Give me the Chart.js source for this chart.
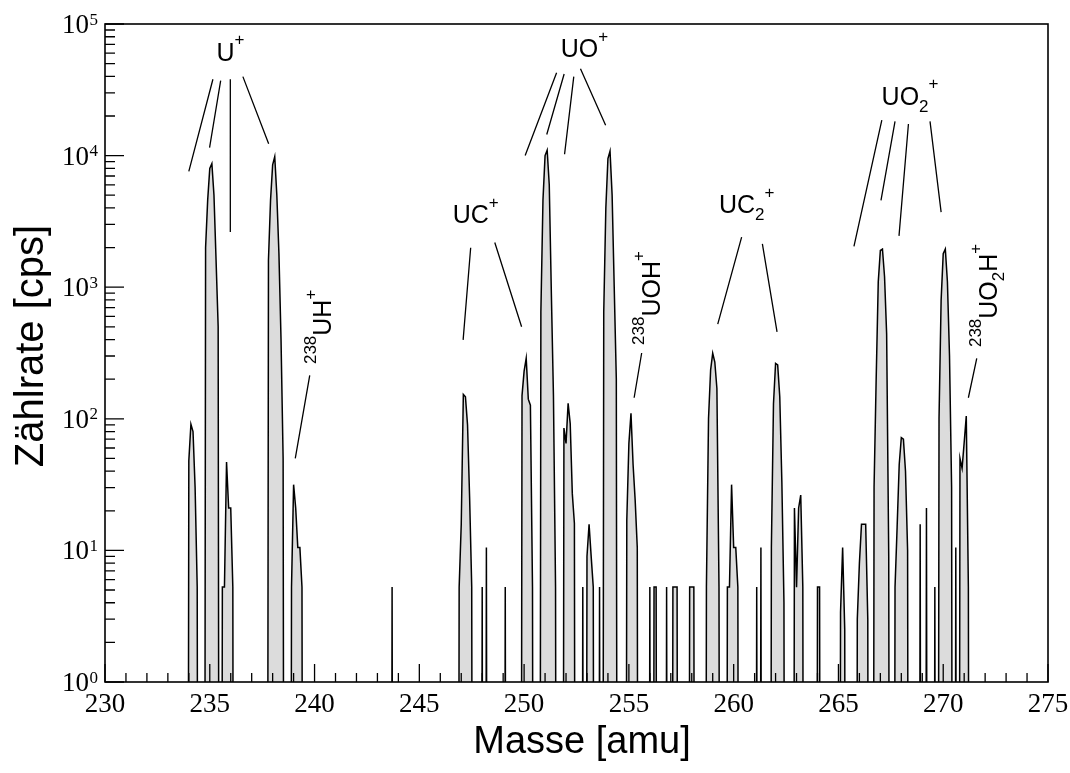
<!DOCTYPE html>
<html>
<head>
<meta charset="utf-8">
<script src="https://cdn.jsdelivr.net/npm/chart.js@4.4.1/dist/chart.umd.min.js"></script>
<style>
  html, body { margin: 0; padding: 0; background: #ffffff; }
  #wrap { width: 1070px; height: 773px; }
</style>
</head>
<body>
<div id="wrap"><canvas id="spectre" width="1070" height="773"></canvas></div>
<script>
// Spectre de masse : [masse (amu), taux de comptage (cps)], 0 = aucun coup
const peaksU = [
  [233.9, 0], [234.0, 48], [234.1, 91], [234.2, 80], [234.3, 30], [234.4, 5.26], [234.5, 0],
  [234.7, 0], [234.8, 2000], [234.9, 4600], [235.0, 8000], [235.1, 8700], [235.2, 5000], [235.3, 1600], [235.4, 500], [235.5, 0],
  [235.6, 5.26], [235.7, 5.26], [235.8, 47], [235.9, 21], [236.0, 21], [236.1, 5.26], [236.2, 0],
  [237.7, 0], [237.8, 1600], [237.9, 4600], [238.0, 8500], [238.1, 9800], [238.2, 5000], [238.3, 1800], [238.4, 400], [238.5, 50], [238.6, 0],
  [238.8, 0], [238.9, 5.26], [239.0, 31.6], [239.1, 21], [239.2, 10.5], [239.3, 10.5], [239.4, 5.26], [239.5, 0],
];
const peaksUC = [
  [243.6, 0], [243.7, 5.26], [243.8, 0],
  [246.8, 0], [246.9, 5.26], [247.0, 15.8], [247.1, 153], [247.2, 147], [247.3, 90], [247.4, 25], [247.5, 5.26], [247.6, 0],
  [247.9, 0], [248.0, 5.26], [248.1, 0], [248.2, 10.5], [248.3, 0],
  [249.0, 0], [249.1, 5.26], [249.2, 0],
];
const peaksUO = [
  [249.8, 0], [249.9, 150], [250.0, 230], [250.1, 288], [250.2, 141], [250.3, 127], [250.4, 5.26], [250.5, 0],
  [250.7, 0], [250.8, 650], [250.9, 4600], [251.0, 10000], [251.1, 11000], [251.2, 6000], [251.3, 900], [251.4, 150], [251.5, 5.26], [251.6, 0],
  [251.8, 0], [251.9, 85], [252.0, 65], [252.1, 131], [252.2, 92], [252.3, 27], [252.4, 16], [252.5, 0],
  [252.7, 0], [252.8, 5.26], [252.9, 0], [253.0, 9], [253.1, 15.8], [253.2, 9], [253.3, 5.26], [253.4, 0],
  [253.5, 0], [253.6, 5.26], [253.7, 0], [253.8, 650], [253.9, 4000], [254.0, 9500], [254.1, 10800], [254.2, 5000], [254.3, 1000], [254.4, 200], [254.5, 0],
  [254.8, 0], [254.9, 17], [255.0, 65], [255.1, 110], [255.2, 45], [255.3, 24], [255.4, 10.5], [255.5, 0],
];
const peaksNoise = [
  [255.9, 0], [256.0, 5.26], [256.1, 0], [256.2, 5.26], [256.3, 5.26], [256.4, 0],
  [256.7, 0], [256.8, 5.26], [256.9, 0],
  [257.0, 0], [257.1, 5.26], [257.2, 5.26], [257.3, 5.26], [257.4, 0],
  [257.8, 0], [257.9, 5.26], [258.0, 5.26], [258.1, 5.26], [258.2, 0],
];
const peaksUC2 = [
  [258.6, 0], [258.7, 5.26], [258.8, 100], [258.9, 235], [259.0, 315], [259.1, 270], [259.2, 170], [259.3, 5.26], [259.4, 0],
  [259.6, 0], [259.7, 5.26], [259.8, 5.26], [259.9, 31.6], [260.0, 10.5], [260.1, 10.5], [260.2, 5.26], [260.3, 0],
  [261.0, 0], [261.1, 5.26], [261.2, 0], [261.3, 10.5], [261.4, 0],
  [261.7, 0], [261.8, 10.5], [261.9, 130], [262.0, 264], [262.1, 257], [262.2, 147], [262.3, 33], [262.4, 4], [262.5, 0],
  [262.8, 0], [262.9, 21], [263.0, 5.26], [263.1, 21], [263.2, 26.3], [263.3, 5.26], [263.4, 0],
  [263.9, 0], [264.0, 5.26], [264.1, 5.26], [264.2, 0],
  [265.0, 0], [265.1, 3.4], [265.2, 10.5], [265.3, 2.5], [265.4, 0],
];
const peaksUO2 = [
  [265.8, 0], [265.9, 3], [266.0, 8], [266.1, 15.8], [266.2, 15.8], [266.3, 15.8], [266.4, 3], [266.5, 0],
  [266.6, 0], [266.7, 30], [266.8, 200], [266.9, 1100], [267.0, 1900], [267.1, 1950], [267.2, 1200], [267.3, 440], [267.4, 9], [267.5, 0],
  [267.6, 0], [267.7, 5.26], [267.8, 15], [267.9, 45], [268.0, 72], [268.1, 70], [268.2, 40], [268.3, 10], [268.4, 0],
  [268.8, 0], [268.9, 15.8], [269.0, 0],
  [269.1, 0], [269.2, 21], [269.3, 0],
  [269.5, 0], [269.6, 5.26], [269.7, 0], [269.8, 100], [269.9, 800], [270.0, 1800], [270.1, 1950], [270.2, 1100], [270.3, 300], [270.4, 30], [270.5, 0],
  [270.6, 10.5], [270.7, 0], [270.8, 50], [270.9, 42], [271.0, 66], [271.1, 105], [271.2, 5.26], [271.3, 0],
];

// Axes
const xMajorTicks = [230, 235, 240, 245, 250, 255, 260, 265, 270, 275];
const xTickLabels = ["230", "235", "240", "245", "250", "255", "260", "265", "270", "275"];
const yMajorTicks = [1, 10, 100, 1000, 10000, 100000];
const yTickExponents = ["0", "1", "2", "3", "4", "5"];
const S_xTitle = "Masse [amu]";
const S_yTitle = "Zählrate [cps]";

// Annotations : [masse1, log10(cps1), masse2, log10(cps2)]
const annotLines = [
  [235.15, 4.58, 234.00, 3.88], [235.52, 4.57, 234.99, 4.06], [235.98, 4.58, 235.98, 3.42], [236.58, 4.60, 237.81, 4.09],
  [239.77, 2.33, 239.08, 1.70],
  [247.45, 3.30, 247.09, 2.60], [248.60, 3.34, 249.88, 2.70],
  [251.55, 4.63, 250.05, 4.00], [251.91, 4.62, 251.08, 4.16], [252.37, 4.60, 251.93, 4.01], [252.69, 4.66, 253.89, 4.23],
  [255.61, 2.50, 255.25, 2.16],
  [260.38, 3.38, 259.24, 2.72], [261.37, 3.33, 262.07, 2.66],
  [267.07, 4.27, 265.74, 3.31], [267.70, 4.26, 267.03, 3.66], [268.34, 4.24, 267.89, 3.39], [269.37, 4.26, 269.90, 3.57],
  [271.60, 2.46, 271.20, 2.16],
];
const annotLabels = [
  { runs: [["U", "n"], ["+", "sup"]], m: 235.32, e: 4.719 },
  { runs: [["UO", "n"], ["+", "sup"]], m: 251.75, e: 4.747 },
  { runs: [["UC", "n"], ["+", "sup"]], m: 246.59, e: 3.486 },
  { runs: [["UC", "n"], ["2", "sub"], ["+", "sup"]], m: 259.30, e: 3.562 },
  { runs: [["UO", "n"], ["2", "sub"], ["+", "sup"]], m: 267.06, e: 4.385 },
  { runs: [["238", "sup"], ["UH", "n"], ["+", "sup"]], m: 240.79, e: 2.416, rot: true },
  { runs: [["238", "sup"], ["UOH", "n"], ["+", "sup"]], m: 256.48, e: 2.561, rot: true },
  { runs: [["238", "sup"], ["UO", "n"], ["2", "sub"], ["H", "n"], ["+", "sup"]], m: 272.55, e: 2.545, rot: true },
];

const ZERO_FLOOR = 1e-9; // zéro coup -> très loin sous l'axe log
const SANS = '"Liberation Sans", Arial, sans-serif';
const SERIF = '"Liberation Serif", "Times New Roman", serif';

const A_points = [].concat(peaksU, peaksUC, peaksUO, peaksNoise, peaksUC2, peaksUO2)
  .map(([m, c]) => ({ x: m, y: c > 0 ? c : ZERO_FLOOR }));

function F_drawRuns(ctx, runs, x, y) {
  let cx = x;
  runs.forEach(([text, kind]) => {
    const size = kind === "n" ? 25 : 17;
    const dy = kind === "sup" ? -15.5 : kind === "sub" ? 7 : 0;
    ctx.font = size + "px " + SANS;
    ctx.fillText(text, cx, y + dy);
    cx += ctx.measureText(text).width;
  });
}

const O_decorPlugin = {
  id: "decor",
  afterDraw(chart) {
    const ctx = chart.ctx;
    const { left, right, top, bottom } = chart.chartArea;
    const xs = chart.scales.x;
    const ys = chart.scales.y;
    ctx.save();
    ctx.strokeStyle = "#000";
    ctx.fillStyle = "#000";

    // ticks x (vers l'intérieur)
    ctx.lineWidth = 1.3;
    ctx.beginPath();
    for (let v = 230; v <= 275; v++) {
      const px = xs.getPixelForValue(v);
      const len = v % 5 === 0 ? 18 : 9;
      ctx.moveTo(px, bottom);
      ctx.lineTo(px, bottom - len);
    }
    // ticks y
    yMajorTicks.forEach((dec, k) => {
      const py = ys.getPixelForValue(dec);
      ctx.moveTo(left, py);
      ctx.lineTo(left + 19, py);
      if (k < yMajorTicks.length - 1) {
        for (let j = 2; j <= 9; j++) {
          const pm = ys.getPixelForValue(dec * j);
          ctx.moveTo(left, pm);
          ctx.lineTo(left + 10, pm);
        }
      }
    });
    ctx.stroke();

    // cadre
    ctx.lineWidth = 1.6;
    ctx.strokeRect(left, top, right - left, bottom - top);

    // lignes d'annotation
    ctx.lineWidth = 1.3;
    ctx.beginPath();
    annotLines.forEach(([m1, e1, m2, e2]) => {
      ctx.moveTo(xs.getPixelForValue(m1), ys.getPixelForValue(Math.pow(10, e1)));
      ctx.lineTo(xs.getPixelForValue(m2), ys.getPixelForValue(Math.pow(10, e2)));
    });
    ctx.stroke();

    // étiquettes d'annotation
    ctx.textAlign = "left";
    ctx.textBaseline = "alphabetic";
    annotLabels.forEach((O_lab) => {
      const px = xs.getPixelForValue(O_lab.m);
      const py = ys.getPixelForValue(Math.pow(10, O_lab.e));
      if (O_lab.rot) {
        ctx.save();
        ctx.translate(px, py);
        ctx.rotate(-Math.PI / 2);
        F_drawRuns(ctx, O_lab.runs, 0, 0);
        ctx.restore();
      } else {
        F_drawRuns(ctx, O_lab.runs, px, py);
      }
    });

    // étiquettes des graduations x
    ctx.font = "27px " + SERIF;
    ctx.textAlign = "center";
    xMajorTicks.forEach((v, i) => {
      ctx.fillText(xTickLabels[i], xs.getPixelForValue(v), bottom + 30);
    });

    // étiquettes des graduations y : 10^n
    yMajorTicks.forEach((v, i) => {
      const py = ys.getPixelForValue(v);
      ctx.font = "27px " + SERIF;
      ctx.textAlign = "right";
      ctx.fillText("10", left - 16, py + 9);
      ctx.font = "17px " + SERIF;
      ctx.textAlign = "left";
      ctx.fillText(yTickExponents[i], left - 15.5, py + 0.5);
    });

    // titres des axes
    ctx.font = "38px " + SANS;
    ctx.textAlign = "center";
    ctx.fillText(S_xTitle, 582, 753);
    ctx.save();
    ctx.translate(43, 346);
    ctx.rotate(-Math.PI / 2);
    ctx.font = "40px " + SANS;
    ctx.fillText(S_yTitle, 0, 0);
    ctx.restore();

    ctx.restore();
  },
};

const O_ctx = document.getElementById("spectre").getContext("2d");
new Chart(O_ctx, {
  type: "line",
  data: {
    datasets: [
      {
        data: A_points,
        borderColor: "#000000",
        borderWidth: 1.5,
        backgroundColor: "#dcdcdc",
        fill: "start",
        pointRadius: 0,
        tension: 0,
      },
    ],
  },
  options: {
    responsive: false,
    animation: false,
    devicePixelRatio: 1,
    events: [],
    layout: { padding: { left: 105, right: 22, top: 24, bottom: 91 } },
    plugins: { legend: { display: false }, tooltip: { enabled: false } },
    scales: {
      x: { type: "linear", min: 230, max: 275, display: false },
      y: { type: "logarithmic", min: 1, max: 100000, display: false },
    },
  },
  plugins: [O_decorPlugin],
});
</script>
</body>
</html>
